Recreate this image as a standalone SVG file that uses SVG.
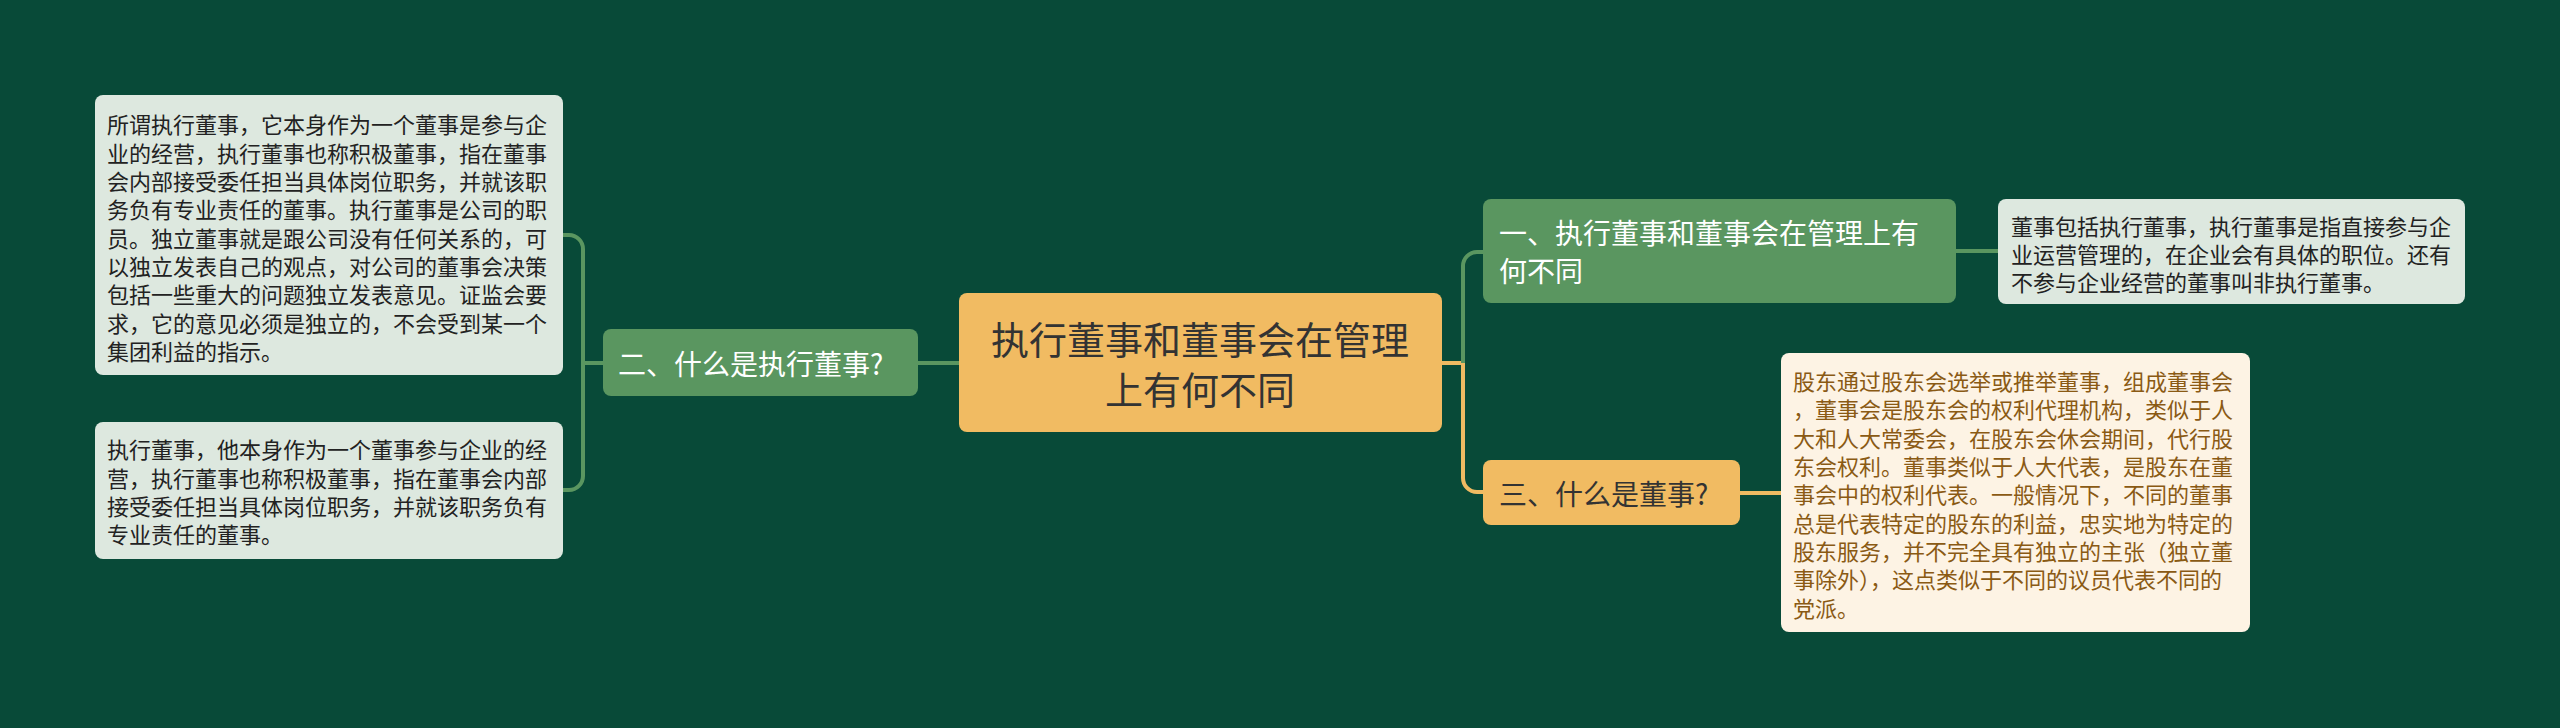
<svg xmlns="http://www.w3.org/2000/svg" width="2560" height="728" viewBox="0 0 2560 728">
<style>
text{font-family:"Noto Sans CJK SC","Noto Sans",sans-serif;dominant-baseline:central}
.g{fill:#5a9660}
.o{fill:#f1bb62}
.lb{fill:#dde8df}
.cb{fill:#fdf3e4}
.t22{font-size:22px;fill:#222}
.tb{font-size:22px;fill:#8a5a14}
.w28{font-size:28px;fill:#ffffff}
.d28{font-size:28px;fill:#333333}
.c38{font-size:38px;fill:#333333;text-anchor:middle}
.gl{stroke:#5a9660;stroke-width:4;fill:none}
.ol{stroke:#efba62;stroke-width:4;fill:none}
</style>
<rect width="2560" height="728" fill="#084a38"/>
<g id="connectors">
<path class="gl" d="M960,363 H918"/>
<path class="gl" d="M603,363 H583"/>
<path class="gl" d="M562,235 H569 A14 14 0 0 1 583 249 V476 A14 14 0 0 1 569 490 H562"/>
<path class="ol" d="M1442,363 H1463"/>
<path class="gl" d="M1463,363 V266 A14 14 0 0 1 1477 252 H1483"/>
<path class="ol" d="M1463,363 V478 A14 14 0 0 0 1477 492 H1483"/>
<path class="gl" d="M1956,251 H1998"/>
<path class="ol" d="M1740,493 H1781"/>
</g>
<g id="center">
<rect class="o" x="959" y="293" width="483" height="139" rx="8"/>
<text class="c38" x="1200" y="337">执行董事和董事会在管理</text>
<text class="c38" x="1200" y="387">上有何不同</text>
</g>
<g id="n2">
<rect class="g" x="603" y="329" width="315" height="67" rx="8"/>
<text class="w28" x="618" y="363">二、什么是执行董事?</text>
</g>
<g id="n2a">
<rect class="lb" x="95" y="95" width="468" height="280" rx="8"/>
<text class="t22" x="107" y="123">所谓执行董事，它本身作为一个董事是参与企</text>
<text class="t22" x="107" y="152">业的经营，执行董事也称积极董事，指在董事</text>
<text class="t22" x="107" y="180">会内部接受委任担当具体岗位职务，并就该职</text>
<text class="t22" x="107" y="208">务负有专业责任的董事。执行董事是公司的职</text>
<text class="t22" x="107" y="237">员。独立董事就是跟公司没有任何关系的，可</text>
<text class="t22" x="107" y="265">以独立发表自己的观点，对公司的董事会决策</text>
<text class="t22" x="107" y="293">包括一些重大的问题独立发表意见。证监会要</text>
<text class="t22" x="107" y="322">求，它的意见必须是独立的，不会受到某一个</text>
<text class="t22" x="107" y="350">集团利益的指示。</text>
</g>
<g id="n2b">
<rect class="lb" x="95" y="422" width="468" height="137" rx="8"/>
<text class="t22" x="107" y="448">执行董事，他本身作为一个董事参与企业的经</text>
<text class="t22" x="107" y="477">营，执行董事也称积极董事，指在董事会内部</text>
<text class="t22" x="107" y="505">接受委任担当具体岗位职务，并就该职务负有</text>
<text class="t22" x="107" y="533">专业责任的董事。</text>
</g>
<g id="n1">
<rect class="g" x="1483" y="199" width="473" height="104" rx="8"/>
<text class="w28" x="1499" y="232">一、执行董事和董事会在管理上有</text>
<text class="w28" x="1499" y="270">何不同</text>
</g>
<g id="n1a">
<rect class="lb" x="1998" y="199" width="467" height="105" rx="8"/>
<text class="t22" x="2011" y="225">董事包括执行董事，执行董事是指直接参与企</text>
<text class="t22" x="2011" y="253">业运营管理的，在企业会有具体的职位。还有</text>
<text class="t22" x="2011" y="281">不参与企业经营的董事叫非执行董事。</text>
</g>
<g id="n3">
<rect class="o" x="1483" y="460" width="257" height="65" rx="8"/>
<text class="d28" x="1499" y="493">三、什么是董事?</text>
</g>
<g id="n3a">
<rect class="cb" x="1781" y="353" width="469" height="279" rx="8"/>
<text class="tb" x="1793" y="380">股东通过股东会选举或推举董事，组成董事会</text>
<text class="tb" x="1793" y="408">，董事会是股东会的权利代理机构，类似于人</text>
<text class="tb" x="1793" y="437">大和人大常委会，在股东会休会期间，代行股</text>
<text class="tb" x="1793" y="465">东会权利。董事类似于人大代表，是股东在董</text>
<text class="tb" x="1793" y="493">事会中的权利代表。一般情况下，不同的董事</text>
<text class="tb" x="1793" y="522">总是代表特定的股东的利益，忠实地为特定的</text>
<text class="tb" x="1793" y="550">股东服务，并不完全具有独立的主张（独立董</text>
<text class="tb" x="1793" y="578">事除外），这点类似于不同的议员代表不同的</text>
<text class="tb" x="1793" y="607">党派。</text>
</g>
</svg>
